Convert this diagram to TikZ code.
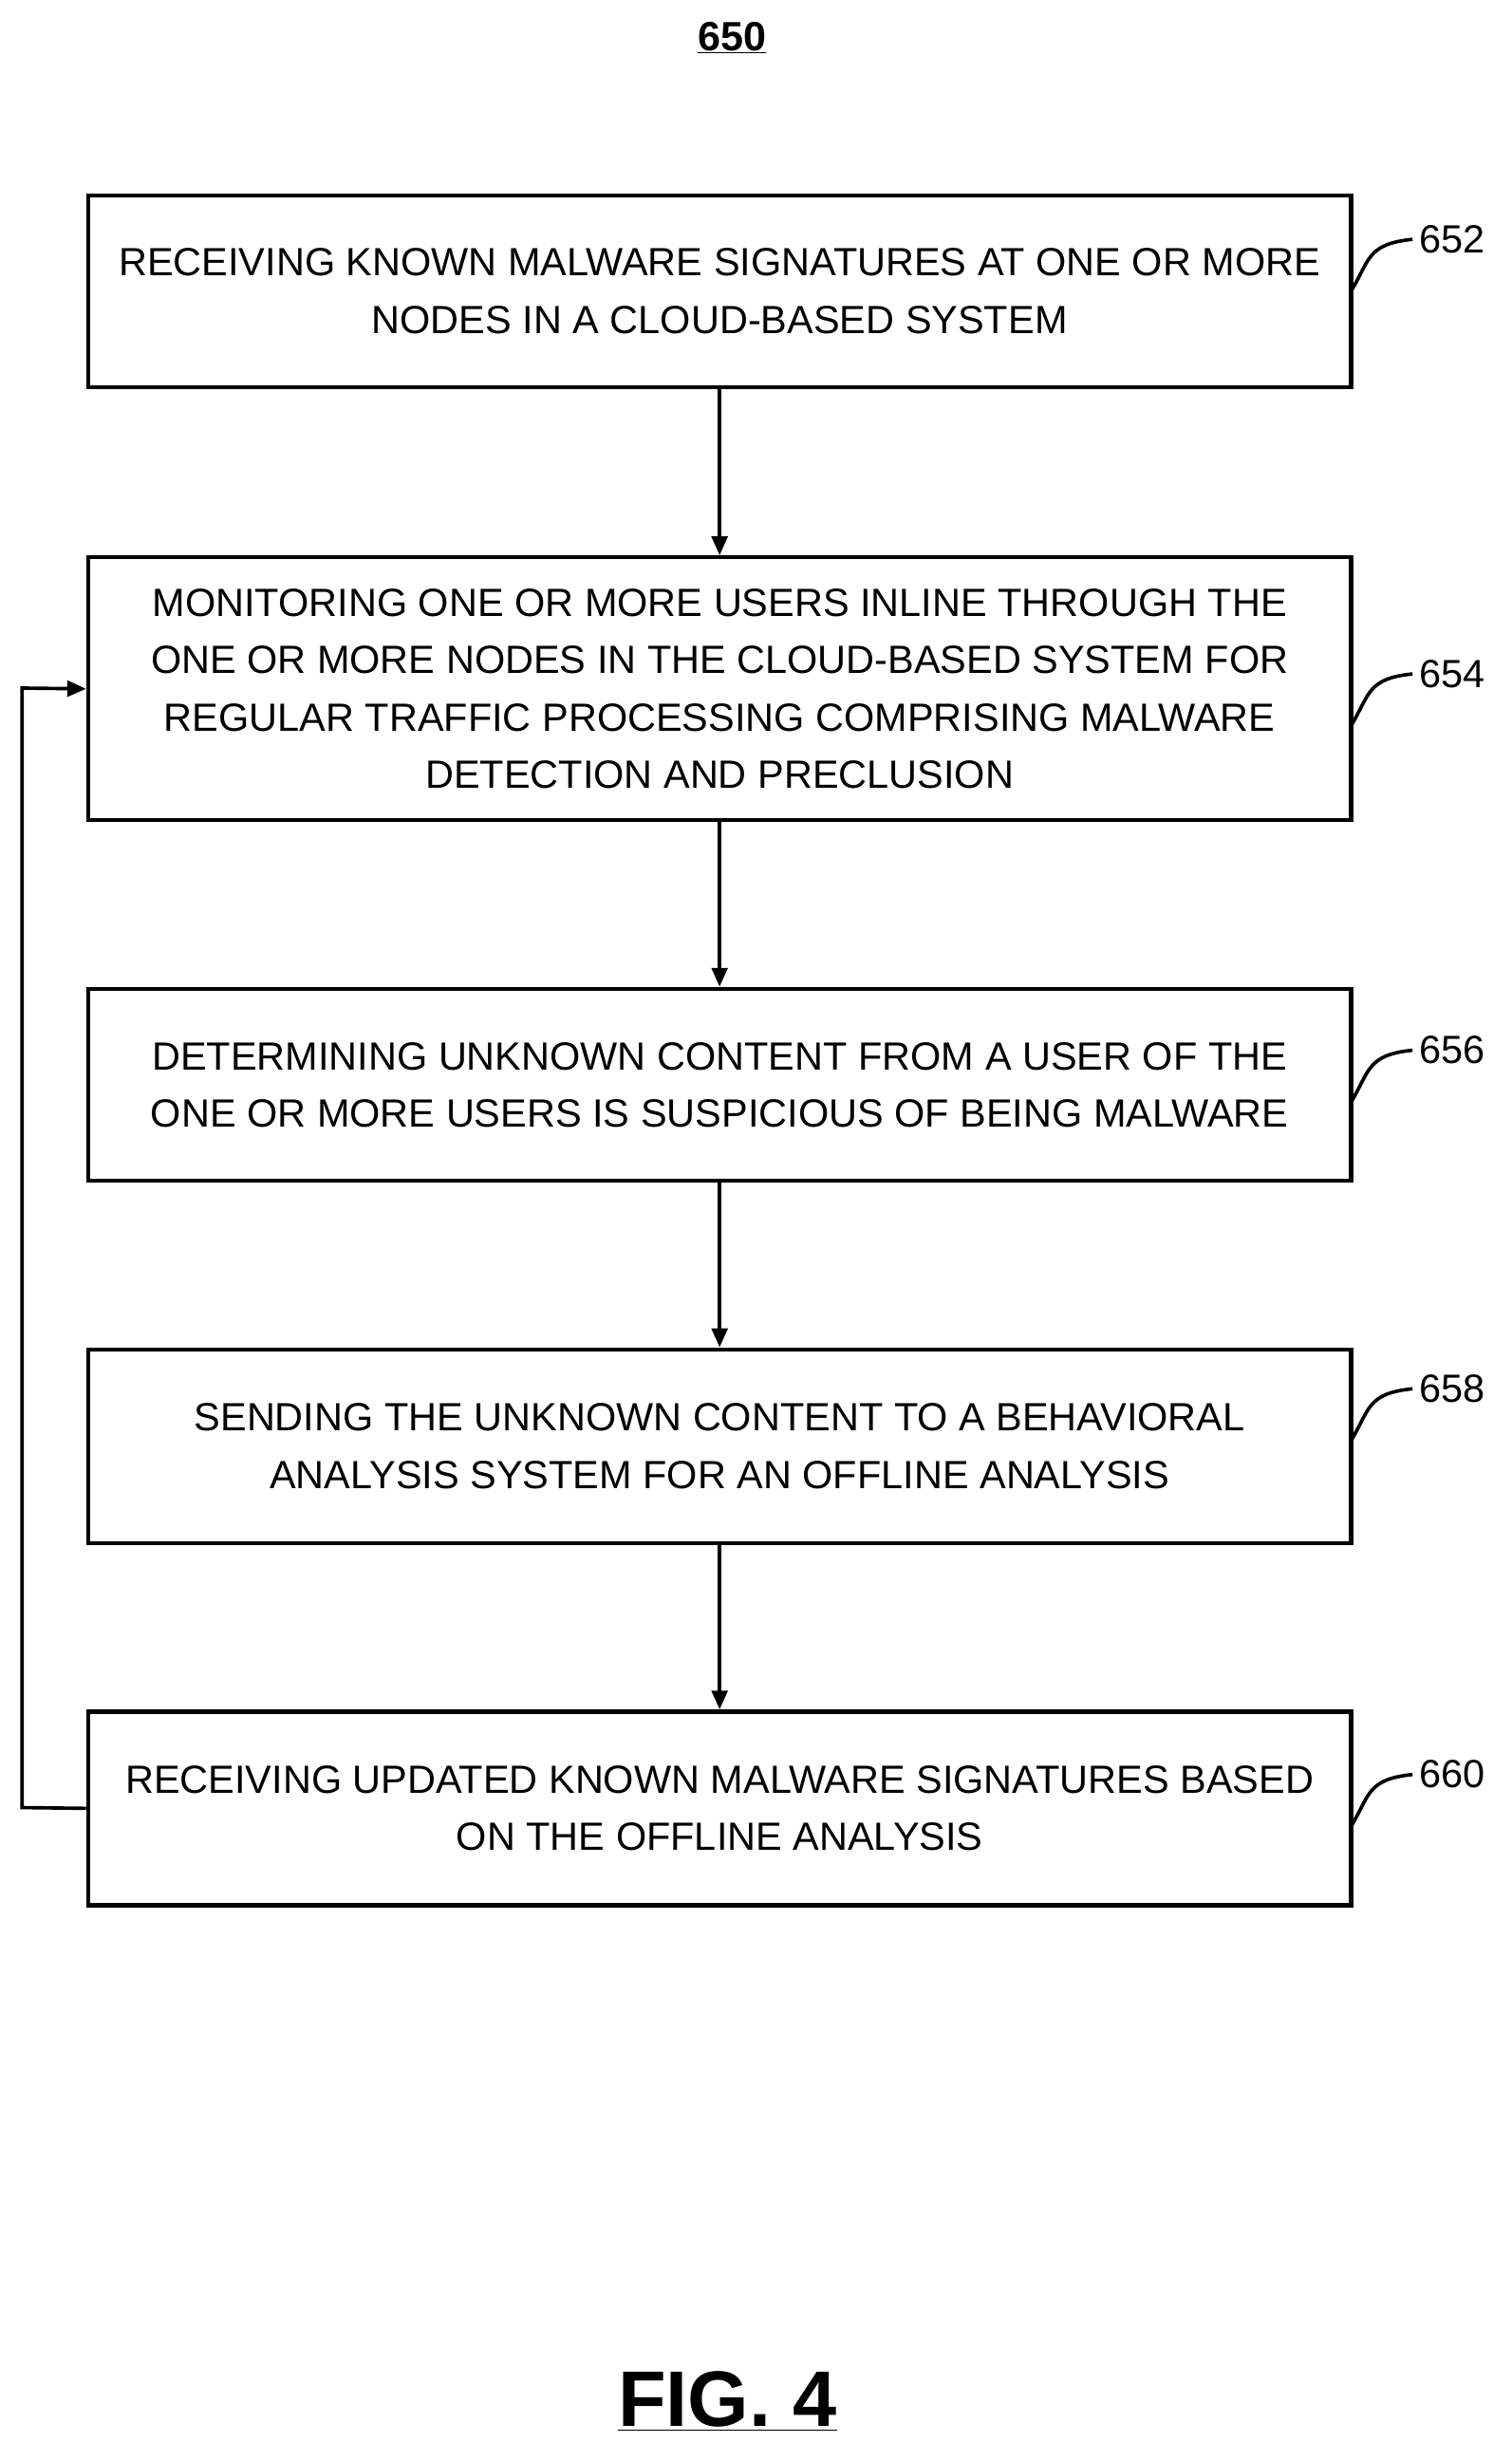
\documentclass[tikz,border=0pt]{standalone}
\usepackage{fontspec}
\setmainfont{Liberation Sans}
\usetikzlibrary{arrows.meta}
\begin{document}
\begin{tikzpicture}[x=1pt,y=-1pt,
  box/.style={draw,line width=2.6pt,minimum width=802pt,align=center,font=\fontsize{25}{36.5}\selectfont,inner sep=0pt},
  arr/.style={line width=2.2pt,-{Triangle[length=12pt,width=10pt]}},
  lab/.style={font=\fontsize{25}{30}\selectfont},
  sq/.style={line width=2.2pt}]
\useasboundingbox (0,0) rectangle (960,1563);
\node[font=\bfseries\fontsize{26}{30}\selectfont] (t) at (465,24) {\underline{650}};
\node[box,minimum height=122pt] (b1) at (457,185) {RECEIVING KNOWN MALWARE SIGNATURES AT ONE OR MORE\\NODES IN A CLOUD-BASED SYSTEM};
\node[box,minimum height=167pt] (b2) at (457,437.5) {MONITORING ONE OR MORE USERS INLINE THROUGH THE\\ONE OR MORE NODES IN THE CLOUD-BASED SYSTEM FOR\\REGULAR TRAFFIC PROCESSING COMPRISING MALWARE\\DETECTION AND PRECLUSION};
\node[box,minimum height=122pt] (b3) at (457,689) {DETERMINING UNKNOWN CONTENT FROM A USER OF THE\\ONE OR MORE USERS IS SUSPICIOUS OF BEING MALWARE};
\node[box,minimum height=123pt] (b4) at (457,918.5) {SENDING THE UNKNOWN CONTENT TO A BEHAVIORAL\\ANALYSIS SYSTEM FOR AN OFFLINE ANALYSIS};
\node[box,minimum height=123pt] (b5) at (457,1148.5) {RECEIVING UPDATED KNOWN MALWARE SIGNATURES BASED\\ON THE OFFLINE ANALYSIS};
\draw[arr] (b1) -- (b2);
\draw[arr] (b2) -- (b3);
\draw[arr] (b3) -- (b4);
\draw[arr] (b4) -- (b5);
\coordinate (c1) at (14,1148);
\coordinate (c2) at (14,437);
\draw[arr] (b5.west) -- (c1) -- (c2) -- (b2.west);
\foreach \n/\y/\l in {1/185/652,2/461/654,3/700/656,4/915/658,5/1160/660}{
  \node[lab,anchor=west] (l\n) at (898,\y-33) {\l};
  \draw[sq] (858,\y) .. controls (870,\y-20) and (868,\y-30) .. (897,\y-33);
}
\node[font=\bfseries\fontsize{50}{56}\selectfont] (fig) at (462,1525) {\underline{FIG. 4}};
\end{tikzpicture}
\end{document}
